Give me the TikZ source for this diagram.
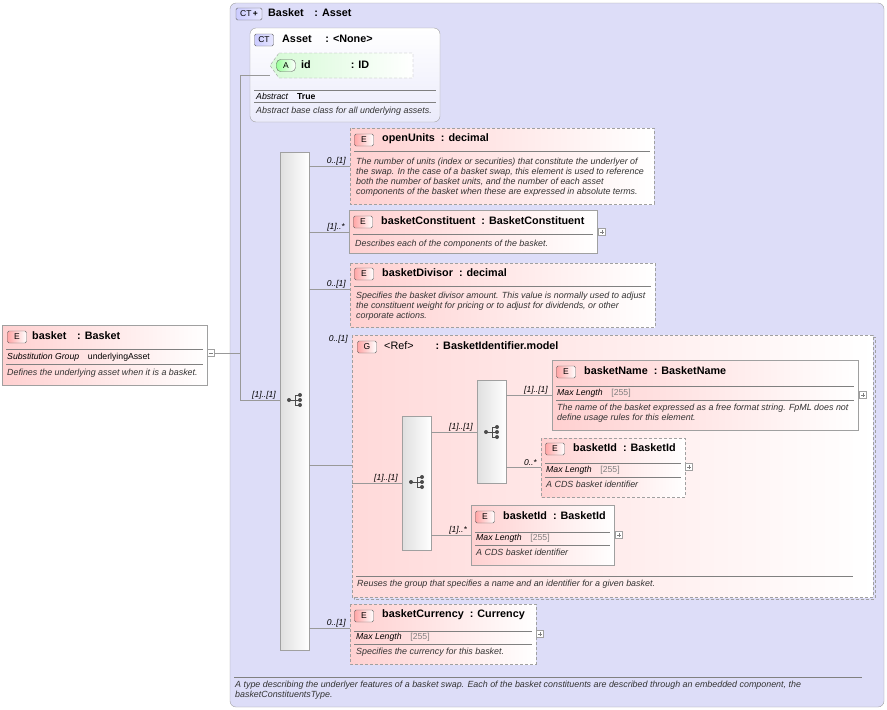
\documentclass[tikz,border=0pt]{standalone}
\usepackage{fontspec}
\setmainfont{Liberation Sans}
\usetikzlibrary{positioning}
\definecolor{ctfill}{RGB}{221,221,248}
\definecolor{elpink}{RGB}{255,208,208}
\definecolor{bordergray}{RGB}{160,160,160}
\definecolor{attgreen}{RGB}{214,250,214}
\tikzset{>=stealth,
  ctbox/.style={draw=bordergray, rounded corners=6pt},
  elbox/.style={draw=bordergray, left color=elpink, right color=white},
  optbox/.style={elbox, dash pattern=on 3pt off 2pt},
  badge/.style={draw=gray!80!black, rounded corners=1.5pt, left color=elpink!80!red, right color=white, font=\fontsize{8.5}{8.5}\selectfont, minimum width=19pt, minimum height=12pt, inner sep=0pt},
  ctbadge/.style={badge, left color=blue!20, right color=blue!10},
  ttl/.style={anchor=west, font=\fontsize{10.8}{10.8}\selectfont\bfseries, inner sep=0pt},
  dsc/.style={anchor=north west, yshift=-2.5pt, font=\fontsize{8.9}{10}\selectfont\itshape, inner sep=0pt, align=left, text=black!80},
  prop/.style={anchor=west, inner sep=0pt, font=\fontsize{8.7}{8.7}\selectfont},
  card/.style={font=\fontsize{8.5}{8.5}\selectfont\itshape, inner sep=1pt},
  seq/.style={draw=bordergray, left color=gray!25, right color=white},
  conn/.style={draw=gray!80},
  plusbox/.style={draw=bordergray, fill=white, minimum size=7pt, inner sep=0pt}
}
\newcommand\seqicon[2]{%
  \fill[black!70] (#1-6,#2) circle (2) (#1+5,#2-5) circle (2) (#1+5,#2) circle (2) (#1+5,#2+5) circle (2);
  \draw[black!70, line width=0.8pt] (#1-6,#2) -- (#1+5,#2) (#1,#2-5) -- (#1,#2+5) (#1,#2-5) -- (#1+5,#2-5) (#1,#2+5) -- (#1+5,#2+5);}
\newcommand\plus[2]{\node[plusbox] at (#1,#2) {};\draw[gray] (#1-2,#2) -- (#1+2,#2) (#1,#2-2) -- (#1,#2+2);}
\newcommand\minus[2]{\node[plusbox] (bmin) at (#1,#2) {};\draw[gray] (#1-2,#2) -- (#1+2,#2);}
\begin{document}
\begin{tikzpicture}[x=1pt, y=-1pt]
\useasboundingbox (0,0) rectangle (887,710);

% outer complex type
\draw[ctbox, fill=ctfill] (230,3) rectangle (884,707);
\node[ctbadge, minimum width=26pt] (ctb) at (249,14) {CT\,\textbf{+}};
\node[ttl] at (268,13) {Basket\quad : Asset};
\draw[gray] (234,677) -- (862,677);
\node[dsc] at (235,678) {A type describing the underlyer features of a basket swap. Each of the basket constituents are described through an embedded component, the\\basketConstituentsType.};

% base type Asset
\draw[ctbox, top color=white, bottom color=ctfill!60] (250,28) rectangle (440,122);
\node[ctbadge] at (264,40) {CT};
\node[ttl] at (282,39) {Asset\quad\ : <None>};
\draw[draw=bordergray, dash pattern=on 3pt off 2pt, left color=attgreen, right color=white] (279,53) -- (413,53) -- (413,78) -- (279,78) -- (270,65.5) -- cycle;
\node[badge, left color=green!40, right color=white, rounded corners=4pt] (ida) at (286,65.5) {A};
\node[ttl] at (301,65) {id\hspace{40pt}: ID};
\draw[gray] (254,90) -- (436,90) (254,102) -- (436,102);
\node[prop] at (256,96) {\textit{Abstract}\quad\textbf{True}};
\node[dsc] at (256,104) {Abstract base class for all underlying assets.};

% left element basket
\draw[elbox] (2,325) rectangle (207,385);
\node[badge] at (17,337) {E};
\node[ttl] at (32,336) {basket\quad: Basket};
\draw[gray] (6,349) -- (203,349) (6,364) -- (203,364);
\node[prop] at (7,357) {\textit{Substitution Group}\quad underlyingAsset};
\node[dsc] at (7,366) {Defines the underlying asset when it is a basket.};
\minus{211}{353}

% main sequence
\draw[seq] (280,152) rectangle (309,650);
\seqicon{295}{400}
\coordinate (trunk) at (240,353);
\draw[conn] (bmin) -- (trunk) (240,75) -- (240,400) -- (280,400) (240,75) -- (270,75);
\node[card, anchor=south east] at (277,400) {[1]..[1]};

% openUnits
\draw[optbox] (350,128) rectangle (654,204);
\node[badge] at (364,140) {E};
\node[ttl] at (382,139) {openUnits\ \ : decimal};
\draw[gray] (354,151) -- (650,151);
\node[dsc] at (356,155) {The number of units (index or securities) that constitute the underlyer of\\the swap. In the case of a basket swap, this element is used to reference\\both the number of basket units, and the number of each asset\\components of the basket when these are expressed in absolute terms.};
\draw[conn] (309,166) -- (350,166);
\node[card, anchor=south east] at (347,166) {0..[1]};

% basketConstituent
\draw[elbox] (349,210) rectangle (597,253);
\node[badge] at (363,222) {E};
\node[ttl] at (381,221) {basketConstituent\ \ : BasketConstituent};
\draw[gray] (353,234) -- (593,234);
\node[dsc] at (355,237) {Describes each of the components of the basket.};
\plus{602}{232}
\draw[conn] (309,232) -- (349,232);
\node[card, anchor=south east] at (346,232) {[1]..*};

% basketDivisor
\draw[optbox] (350,263) rectangle (655,327);
\node[badge] at (364,274) {E};
\node[ttl] at (382,273) {basketDivisor\ \ : decimal};
\draw[gray] (354,286) -- (651,286);
\node[dsc] at (356,289) {Specifies the basket divisor amount. This value is normally used to adjust\\the constituent weight for pricing or to adjust for dividends, or other\\corporate actions.};
\draw[conn] (309,289) -- (350,289);
\node[card, anchor=south east] at (347,289) {0..[1]};

% group
\draw[draw=bordergray, dash pattern=on 3pt off 2pt, left color=elpink!80, right color=white] (352,335) rectangle (873,597);
\draw[bordergray, dash pattern=on 3pt off 2pt] (873,337) -- (875,337) -- (875,599) -- (354,599) -- (354,597);
\node[badge] at (367,347) {G};
\node[ttl, font=\fontsize{10.8}{10.8}\selectfont] at (384,346) {<Ref>\hspace{22pt}\textbf{: BasketIdentifier.model}};
\draw[gray] (356,576) -- (853,576);
\node[dsc] at (357,577) {Reuses the group that specifies a name and an identifier for a given basket.};
\draw[conn] (309,465) -- (352,465);
\node[card, anchor=south east] at (349,344) {0..[1]};

% inner sequences
\draw[seq] (402,416) rectangle (431,550);
\seqicon{417}{482}
\draw[conn] (352,483) -- (402,483);
\node[card, anchor=south east] at (399,483) {[1]..[1]};
\draw[seq] (477,380) rectangle (506,483);
\seqicon{492}{432}
\draw[conn] (431,432) -- (477,432);
\node[card, anchor=south east] at (474,432) {[1]..[1]};

% basketName
\draw[elbox] (552,360) rectangle (858,430);
\node[badge] at (566,372) {E};
\node[ttl] at (584,371) {basketName\ \ : BasketName};
\draw[gray] (556,386) -- (854,386) (556,400) -- (854,400);
\node[prop] at (557,393) {\textit{Max Length}\quad\textcolor{gray}{[255]}};
\node[dsc] at (557,401) {The name of the basket expressed as a free format string. FpML does not\\define usage rules for this element.};
\plus{863}{395}
\draw[conn] (506,395) -- (552,395);
\node[card, anchor=south east] at (549,395) {[1]..[1]};

% basketId (optional)
\draw[optbox] (541,438) rectangle (685,497);
\node[badge] at (555,449) {E};
\node[ttl] at (573,448) {basketId\ \ : BasketId};
\draw[gray] (545,463) -- (681,463) (545,477) -- (681,477);
\node[prop] at (546,470) {\textit{Max Length}\quad\textcolor{gray}{[255]}};
\node[dsc] at (546,478) {A CDS basket identifier};
\plus{689}{467}
\draw[conn] (506,467) -- (541,467);
\node[card, anchor=south east] at (538,467) {0..*};

% basketId
\draw[elbox] (471,505) rectangle (614,565);
\node[badge] at (485,517) {E};
\node[ttl] at (503,516) {basketId\ \ : BasketId};
\draw[gray] (475,532) -- (610,532) (475,545) -- (610,545);
\node[prop] at (476,538) {\textit{Max Length}\quad\textcolor{gray}{[255]}};
\node[dsc] at (476,546) {A CDS basket identifier};
\plus{619}{535}
\draw[conn] (431,535) -- (471,535);
\node[card, anchor=south east] at (468,535) {[1]..*};

% basketCurrency
\draw[optbox] (350,604) rectangle (536,664);
\node[badge] at (364,616) {E};
\node[ttl] at (382,615) {basketCurrency\ \ : Currency};
\draw[gray] (354,631) -- (532,631) (354,644) -- (532,644);
\node[prop] at (356,637) {\textit{Max Length}\quad\textcolor{gray}{[255]}};
\node[dsc] at (356,645) {Specifies the currency for this basket.};
\plus{540}{634}
\draw[conn] (309,628) -- (350,628);
\node[card, anchor=south east] at (347,628) {0..[1]};
\end{tikzpicture}
\end{document}
